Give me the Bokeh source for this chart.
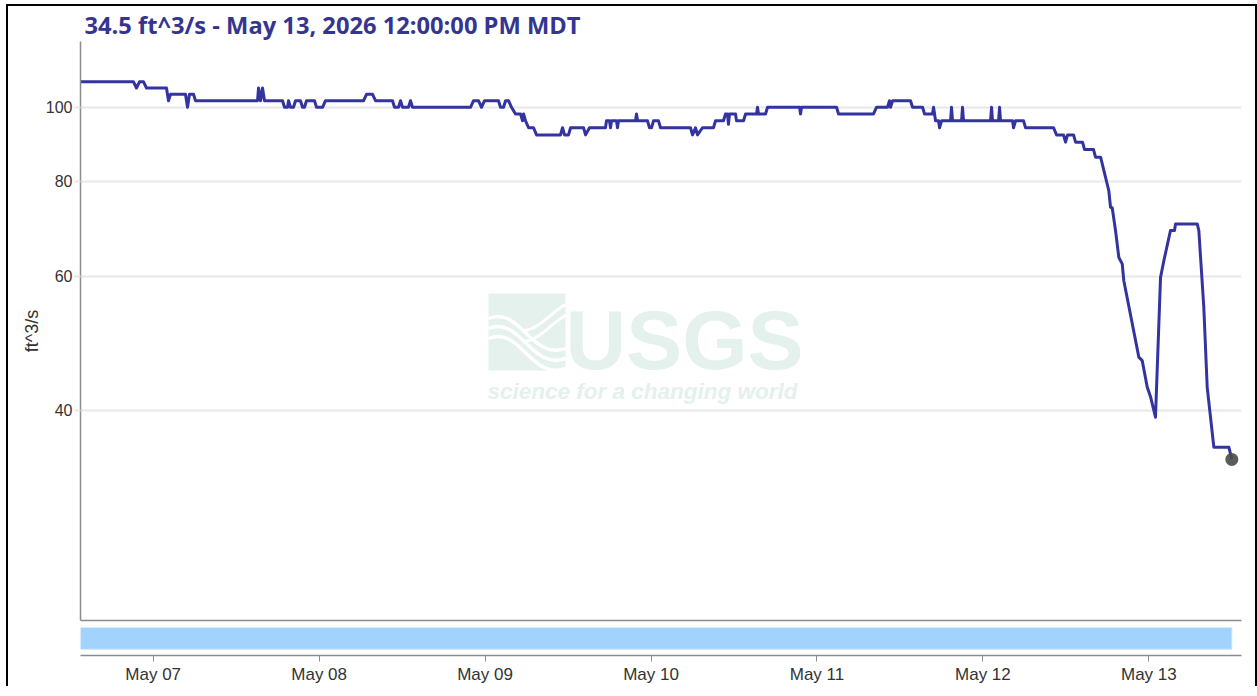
import math
from datetime import datetime, timedelta

from bokeh.plotting import figure
from bokeh.layouts import column
from bokeh.models import (Range1d, FixedTicker, PrintfTickFormatter, DaysTicker,
                          DatetimeTickFormatter)
from bokeh.core.properties import value
from bokeh.embed import file_html
from bokeh.resources import INLINE

# ---------------- data ----------------
TITLE = "34.5 ft^3/s - May 13, 2026 12:00:00 PM MDT"
Y_LABEL = "ft^3/s"
Y_TICKS = [40, 60, 80, 100]
BASE = datetime(2026, 5, 7, 0, 0)          # hours below are counted from here
X_START = datetime(2026, 5, 6, 13, 29)
X_END = datetime(2026, 5, 13, 13, 24)
Y_MIN, Y_MAX = 21.2, 122.0

hours = [
    -10.51, -2.85, -2.42, -1.98, -1.40, -0.97,
    1.92, 2.21, 2.50, 4.67, 4.96, 5.25, 5.83, 6.12,
    15.09, 15.23, 15.52, 15.81, 16.10,
    18.70, 18.99, 19.43, 19.57, 19.86, 20.29, 20.58, 21.30, 21.59, 21.88, 22.17,
    23.33, 23.62, 24.49, 24.92,
    30.41, 30.85, 31.72, 32.15,
    34.61, 34.90, 35.48, 35.77, 36.06, 36.92, 37.21, 37.50,
    45.89, 46.33, 47.05, 47.48, 47.92, 49.94, 50.23, 50.67, 50.96, 51.39,
    51.82, 52.40, 53.13, 53.42, 53.56, 53.85, 54.29, 55.01, 55.44,
    58.91, 59.20, 59.49, 60.07, 60.36, 62.24, 62.53, 63.10,
    65.41, 65.56, 65.99, 66.14, 66.28, 67.01, 67.15, 67.30,
    69.76, 69.90, 70.05, 71.49, 71.78, 72.07, 72.36, 73.08, 73.37,
    77.71, 78.00, 78.43, 78.72, 79.44,
    81.03, 81.32, 82.48, 82.77, 83.06, 83.20, 83.35, 84.22, 84.36, 85.38, 85.67,
    87.26, 87.40, 87.55, 88.56, 88.85,
    93.48, 93.62, 93.77, 98.83, 99.12,
    104.18, 104.61, 106.20, 106.49, 106.64, 106.93,
    109.53, 109.82, 111.27, 111.56, 112.71, 112.86, 113.15, 113.58, 113.73, 114.02,
    115.32, 115.46, 115.61, 116.91, 117.05, 117.20,
    121.10, 121.25, 121.39, 122.26, 122.41, 122.55,
    124.29, 124.43, 124.72, 125.88, 126.17,
    130.22, 130.65, 131.66, 131.95, 132.24, 133.11, 133.40, 134.41, 134.70,
    136.00, 136.29, 137.02,
    137.50, 138.21, 138.46, 138.70, 139.18, 139.66, 140.15, 140.38, 142.55,
    143.04, 143.77, 144.24, 144.96,
    145.69, 146.17, 147.13, 147.71, 147.86, 151.00, 151.23, 151.95, 152.44,
    153.40, 155.57, 156.00,
]

flow = [
    108, 108, 106, 108, 108, 106,
    106, 102, 104, 104, 100, 104, 104, 102,
    102, 106, 102, 106, 102,
    102, 100, 100, 102, 100, 100, 102, 102, 100, 100, 102,
    102, 100, 100, 102,
    102, 104, 104, 102,
    102, 100, 100, 102, 100, 100, 102, 100,
    100, 102, 102, 100, 102, 102, 100, 100, 102, 102,
    100, 98, 98, 96, 98, 96, 94, 94, 92,
    92, 94, 92, 92, 94, 94, 92, 94,
    94, 96, 96, 94, 96, 96, 94, 96,
    96, 98, 96, 96, 94, 94, 96, 96, 94,
    94, 92, 94, 92, 94,
    94, 96, 96, 98, 98, 95, 98, 98, 96, 96, 98,
    98, 100, 98, 98, 100,
    100, 98, 100, 100, 98,
    98, 100, 100, 102, 100, 102,
    102, 100, 100, 98, 98, 100, 96, 96, 94, 96,
    96, 100, 96, 96, 100, 96,
    96, 100, 96, 96, 100, 96,
    96, 94, 96, 96, 94,
    94, 92, 92, 90, 92, 92, 90, 90, 88,
    88, 86, 86,
    82.6, 77.7, 73.9, 73.8, 68.9, 63.5, 62.3, 59.2, 47.0,
    46.5, 42.9, 41.7, 39.2,
    59.8, 62.9, 68.9, 68.9, 70.3, 70.3, 68.9, 54.6, 42.9,
    35.8, 35.8, 34.5,
]

times = [BASE + timedelta(hours=h) for h in hours]

# ---------------- styling / layout constants ----------------
LINE_COLOR = "#3434a0"
TITLE_COLOR = "#35358f"
TEXT_COLOR = "#333333"
AXIS_COLOR = "#8c8c8c"
GRID_COLOR = "#e8e8e8"
BAND_COLOR = "#a2d3fc"
WM_COLOR = "#e4f1ed"

ORIGIN_X, ORIGIN_Y = 8, 6       # page position of the layout content
W = 1247
FL, FR = 72, 14
FRAME_W = W - FL - FR
TOP = 35
FRAME_H = 579
GAP = 7
FRAME_TOP_PAGE = ORIGIN_Y + TOP
FRAME_LEFT_PAGE = ORIGIN_X + FL


def sx(px):
    return X_START + (X_END - X_START) * ((px - FRAME_LEFT_PAGE) / FRAME_W)


def sy(py):
    lt, lb = math.log10(Y_MAX), math.log10(Y_MIN)
    return 10 ** (lt - (py - FRAME_TOP_PAGE) / FRAME_H * (lt - lb))


p = figure(width=W, height=TOP + FRAME_H + GAP,
           x_axis_type="datetime", y_axis_type="log",
           x_range=Range1d(X_START, X_END), y_range=Range1d(Y_MIN, Y_MAX),
           output_backend="svg", toolbar_location=None, tools="",
           min_border_left=FL, min_border_right=FR,
           min_border_top=TOP, min_border_bottom=GAP)
p.outline_line_color = None
p.background_fill_color = "white"
p.border_fill_color = "white"

p.title.text = TITLE
p.title.text_font = "Open Sans"
p.title.text_font_style = "bold"
p.title.text_font_size = "23.7px"
p.title.text_color = TITLE_COLOR
p.title.align = "left"
p.title.vertical_align = "middle"
p.title.offset = 4
p.title.standoff = 0

# y axis
p.yaxis.ticker = FixedTicker(ticks=Y_TICKS, minor_ticks=[])
p.yaxis.formatter = PrintfTickFormatter(format="%d")
p.yaxis.axis_label = Y_LABEL
p.yaxis.axis_label_text_font = "Liberation Sans"
p.yaxis.axis_label_text_font_style = "normal"
p.yaxis.axis_label_text_font_size = "18px"
p.yaxis.axis_label_text_color = TEXT_COLOR
p.yaxis.axis_label_standoff = 1
p.yaxis.major_label_text_font = "Liberation Sans"
p.yaxis.major_label_text_font_size = "16px"
p.yaxis.major_label_text_color = TEXT_COLOR
p.yaxis.major_label_standoff = 2
p.yaxis.axis_line_color = AXIS_COLOR
p.yaxis.axis_line_width = 1.5
p.yaxis.major_tick_in = 0
p.yaxis.major_tick_out = 6
p.yaxis.major_tick_line_color = GRID_COLOR
p.yaxis.major_tick_line_width = 2
p.yaxis.minor_tick_out = 0
p.yaxis.minor_tick_in = 0
p.ygrid.grid_line_color = GRID_COLOR
p.ygrid.grid_line_width = 2
p.xgrid.visible = False

# bottom frame line only
p.xaxis.ticker = FixedTicker(ticks=[])
p.xaxis.major_label_text_font_size = "0px"
p.xaxis.major_tick_out = 0
p.xaxis.major_tick_in = 0
p.xaxis.minor_tick_out = 0
p.xaxis.minor_tick_in = 0
p.xaxis.major_label_standoff = 0
p.xaxis.axis_line_color = AXIS_COLOR
p.xaxis.axis_line_width = 1.5

# watermark (USGS logo, decoration)
p.quad(left=[sx(488)], right=[sx(565)], bottom=[sy(370)], top=[sy(293)],
       fill_color=WM_COLOR, line_color=None)
for i in range(3):
    off = i * 10
    p.bezier(x0=[sx(488)], y0=[sy(318 + off)], x1=[sx(565)], y1=[sy(348 + off)],
             cx0=[sx(520)], cy0=[sy(305 + off)], cx1=[sx(530)], cy1=[sy(360 + off)],
             line_color="white", line_width=3.5)
for i in range(2):
    off = i * 11
    p.bezier(x0=[sx(565)], y0=[sy(304 + off)], x1=[sx(522)], y1=[sy(330 + off)],
             cx0=[sx(550)], cy0=[sy(312 + off)], cx1=[sx(538)], cy1=[sy(330 + off)],
             line_color="white", line_width=3)
USGS_SIZE = 84
TAG_SIZE = 22.5
p.text(x=[sx(565)], y=[sy(371 - 0.375 * USGS_SIZE)], text=["USGS"],
       text_font=value("Liberation Sans"), text_font_size=value(f"{USGS_SIZE}px"),
       text_font_style="bold", text_color=WM_COLOR,
       text_align="left", text_baseline="alphabetic")
p.text(x=[sx(487)], y=[sy(399 - 0.375 * TAG_SIZE)], text=["science for a changing world"],
       text_font=value("Liberation Sans"), text_font_size=value(f"{TAG_SIZE}px"),
       text_font_style="bold italic", text_color=WM_COLOR,
       text_align="left", text_baseline="alphabetic")

# data line
p.line(times, flow, line_color=LINE_COLOR, line_width=3, line_join="round")
p.scatter([times[-1]], [flow[-1]], size=13, fill_color="#4a4a4a",
          line_color=None, fill_alpha=0.9)

# ---------------- navigator strip + time axis ----------------
NAV_FRAME_H = 31
nav = figure(width=W, height=NAV_FRAME_H + 28, x_axis_type="datetime",
             x_range=p.x_range, y_range=Range1d(0, NAV_FRAME_H),
             output_backend="svg", toolbar_location=None, tools="",
             min_border_left=FL, min_border_right=FR,
             min_border_top=0, min_border_bottom=28)
nav.outline_line_color = None
nav.grid.visible = False
nav.yaxis.visible = False
nav.quad(left=[times[0]], right=[times[-1]], bottom=[7], top=[NAV_FRAME_H],
         fill_color=BAND_COLOR, line_color="#c4e3fd", line_width=1)
nav.xaxis.ticker = DaysTicker(days=list(range(1, 32)))
nav.xaxis.formatter = DatetimeTickFormatter(days="%b %d", months="%b %d")
nav.xaxis.major_label_text_font = "Liberation Sans"
nav.xaxis.major_label_text_font_size = "17px"
nav.xaxis.major_label_text_color = TEXT_COLOR
nav.xaxis.major_label_standoff = 3
nav.xaxis.axis_line_color = AXIS_COLOR
nav.xaxis.axis_line_width = 1.5
nav.xaxis.major_tick_out = 6
nav.xaxis.major_tick_in = 0
nav.xaxis.major_tick_line_color = AXIS_COLOR
nav.xaxis.minor_tick_out = 0
nav.xaxis.minor_tick_in = 0

layout = column(p, nav, spacing=0,
                styles={"border": "2px solid #000", "border-bottom": "none",
                        "margin-left": "6px", "margin-top": "4px"})

open("out.html", "w").write(file_html(layout, INLINE))
